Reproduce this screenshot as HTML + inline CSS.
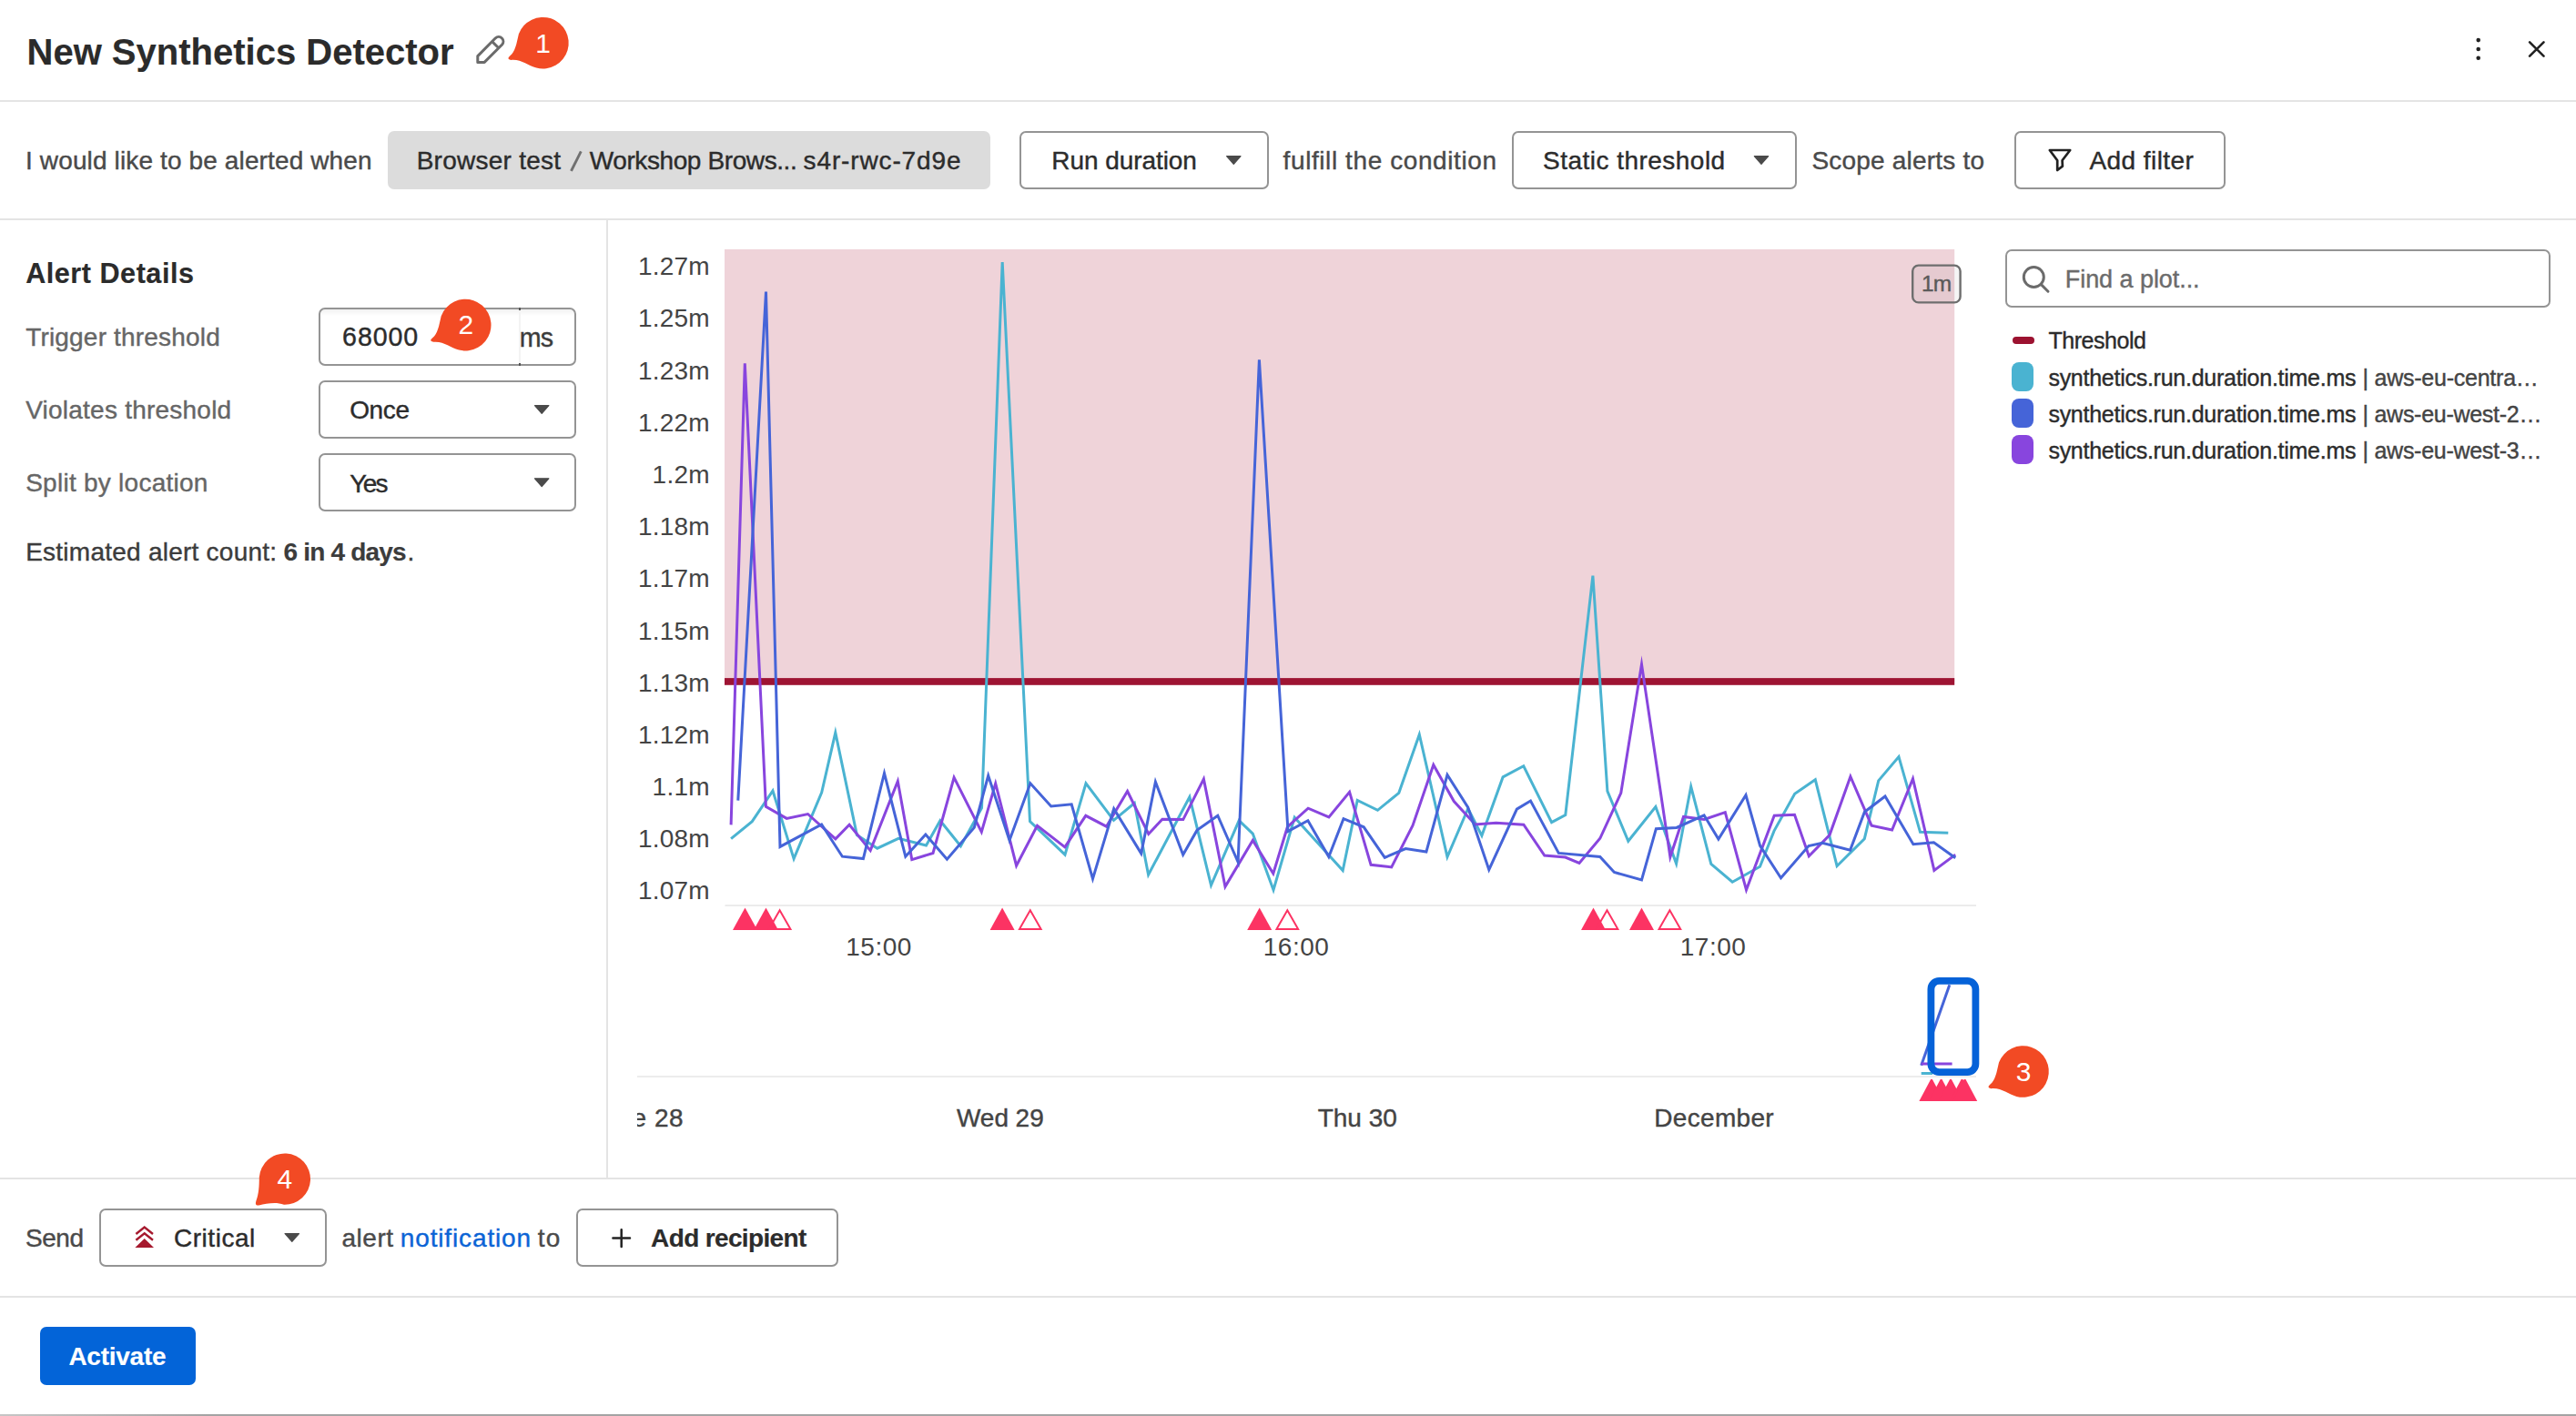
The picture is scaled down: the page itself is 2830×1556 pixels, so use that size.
<!DOCTYPE html>
<html lang="en">
<head>
<meta charset="utf-8">
<title>New Synthetics Detector</title>
<style>
html,body{margin:0;padding:0;background:#fff;}
body{width:2830px;height:1556px;overflow:hidden;font-family:"Liberation Sans",sans-serif;}
#page{position:relative;width:2830px;height:1556px;overflow:hidden;background:#fff;}
.t{position:absolute;white-space:pre;line-height:1;font-family:"Liberation Sans",sans-serif;}
.s{-webkit-text-stroke:0.4px currentColor;}
.sb{-webkit-text-stroke:0.15px currentColor;}
.hl,.vl,.box,.sw{position:absolute;box-sizing:border-box;}
.hl{left:0;width:2830px;height:2px;background:#e4e4e4;}
.vl{width:2px;background:#e4e4e4;}
.box{border:2px solid #949494;border-radius:7px;background:#fff;}
.sw{border-radius:8px;}
svg{position:absolute;left:0;top:0;overflow:visible;}

</style>
</head>
<body>
<div id="page">
<!-- separators -->
<div class="hl" style="top:110px"></div>
<div class="hl" style="top:240px"></div>
<div class="vl" style="left:666px;top:242px;height:1053px"></div>
<div class="hl" style="top:1294px"></div>
<div class="hl" style="top:1424px"></div>
<div class="hl" style="top:1554px;height:2px;background:linear-gradient(to right,#c6c6c6 0,#a4a4a4 8%,#a4a4a4 100%)"></div>

<!-- row 2 -->
<div class="box" style="left:425.7px;top:144px;width:662.3px;height:64px;border:none;background:#dcdcdc"></div>
<div class="box" style="left:1120px;top:144px;width:274px;height:64px"></div>
<div class="box" style="left:1661.4px;top:144px;width:312.4px;height:64px"></div>
<div class="box" style="left:2213px;top:144px;width:232px;height:64px"></div>

<!-- left panel -->
<div class="box inp" style="left:350px;top:338px;width:283.3px;height:64px;background:linear-gradient(to bottom,#f1f1f1 0,#fff 7px,#fff 100%)"></div>
<div class="vl" style="left:570px;top:341px;height:58px;background:#f3f3f3"></div>
<div class="vl" style="left:570px;top:338px;height:3px;background:#555"></div>
<div class="vl" style="left:570px;top:399px;height:3px;background:#555"></div>
<div class="box" style="left:350px;top:418px;width:283.3px;height:64px"></div>
<div class="box" style="left:350px;top:498px;width:283.3px;height:64px"></div>

<!-- legend / search -->
<div class="box" style="left:2203.3px;top:274px;width:599px;height:64px"></div>
<div class="sw" style="left:2210.6px;top:370px;width:24.4px;height:8px;border-radius:4px;background:#9c1230"></div>
<div class="sw" style="left:2210.3px;top:398px;width:24.2px;height:32px;background:#4ab3d1"></div>
<div class="sw" style="left:2210.3px;top:438px;width:24.2px;height:32px;background:#4564d8"></div>
<div class="sw" style="left:2210.3px;top:478px;width:24.2px;height:32px;background:#8845de"></div>

<!-- bottom -->
<div class="box" style="left:109px;top:1328px;width:249.5px;height:64px"></div>
<div class="box" style="left:633px;top:1328px;width:287.5px;height:64px"></div>
<div class="box" style="left:43.5px;top:1458px;width:171px;height:64px;border:none;background:#0364d8"></div>
<div class="cover" style="position:absolute;left:670px;top:1205px;width:29.7px;height:45px;background:#fff;z-index:5"></div>

<svg width="2830" height="1556" viewBox="0 0 2830 1556">
<rect x="796" y="273.9" width="1351.2" height="475" fill="#efd3d9"/>
<rect x="796.5" y="994" width="1374.5" height="2" fill="#ececec"/>
<rect x="796" y="745.1" width="1351.2" height="7.7" fill="#9e1433"/>
<polyline fill="none" stroke="#4ab3d1" stroke-width="3" stroke-linejoin="miter" stroke-miterlimit="10" points="803.1,921.7 826.3,902.7 849.0,869.0 872.1,943.6 902.7,870.8 917.8,805.1 941.4,917.5 963.8,932.2 987.0,921.4 1017.5,929.0 1032.9,901.7 1055.4,929.7 1078.5,887.9 1101.2,288.1 1131.5,902.7 1170.0,939.2 1193.0,860.8 1223.5,901.3 1246.3,882.5 1261.6,961.3 1306.9,875.8 1330.5,972.9 1361.2,901.6 1376.3,916.1 1399.0,978.0 1422.2,898.3 1475.2,956.6 1491.2,879.5 1513.5,890.3 1536.8,871.3 1559.3,807.2 1590.0,941.7 1612.8,888.5 1627.9,918.2 1651.1,853.9 1673.8,841.8 1704.6,903.6 1719.8,895.5 1749.9,632.6 1765.9,869.4 1788.8,924.3 1818.9,886.5 1841.6,949.0 1857.7,864.3 1879.8,949.4 1903.2,969.2 1933.5,952.3 1949.0,913.1 1971.7,872.3 1994.3,856.8 2018.1,951.7 2048.3,921.7 2063.7,857.9 2086.0,831.5 2109.5,914.3 2140.3,915.3"/>
<polyline fill="none" stroke="#8845de" stroke-width="3" stroke-linejoin="miter" stroke-miterlimit="10" points="803.1,906.4 818.3,399.4 841.4,886.3 864.2,899.4 887.5,894.5 917.9,921.9 933.1,906.2 956.2,934.6 986.3,858.5 1001.8,944.6 1025.0,937.5 1048.1,854.3 1078.3,914.2 1093.7,860.9 1116.6,951.2 1139.5,907.2 1169.9,930.9 1192.8,896.3 1215.5,908.2 1238.6,869.5 1261.8,916.5 1276.9,900.2 1299.8,900.6 1322.4,856.1 1346.0,974.3 1376.3,923.4 1398.8,960.0 1414.4,908.7 1437.1,888.2 1459.9,897.9 1482.6,870.3 1506.1,950.3 1528.7,952.9 1552.0,907.2 1574.8,840.4 1597.3,880.5 1620.7,905.9 1643.6,904.2 1673.9,906.2 1696.8,940.0 1719.7,942.0 1735.0,948.4 1757.8,921.3 1780.8,871.3 1803.5,730.0 1834.9,941.8 1849.5,897.5 1872.3,900.5 1895.3,892.6 1918.5,977.9 1949.2,896.2 1971.5,895.3 1987.3,940.7 2010.0,917.6 2032.9,853.4 2056.1,907.1 2078.6,912.0 2101.5,855.7 2124.9,956.4 2148.2,939.1"/>
<polyline fill="none" stroke="#4564d8" stroke-width="3" stroke-linejoin="miter" stroke-miterlimit="10" points="810.8,879.7 841.5,320.6 857.0,930.4 902.6,905.9 925.4,941.2 948.4,943.6 971.5,849.6 994.8,941.2 1016.9,916.9 1040.4,944.2 1070.3,909.4 1085.7,852.3 1109.0,923.4 1131.9,860.8 1154.7,885.9 1177.2,883.8 1200.5,965.7 1223.7,888.6 1253.7,937.9 1269.4,859.2 1299.7,939.3 1315.0,912.4 1337.8,896.2 1360.1,947.3 1383.4,395.3 1415.0,913.5 1436.9,901.8 1459.8,941.5 1476.0,899.6 1498.2,908.8 1521.3,942.4 1544.2,932.5 1566.9,936.1 1590.0,851.5 1612.7,887.2 1635.8,955.7 1666.4,889.1 1681.5,880.0 1712.3,937.4 1757.8,941.4 1773.4,958.5 1803.5,967.0 1819.4,910.7 1841.9,909.4 1872.1,895.8 1887.9,922.1 1918.0,873.8 1933.6,929.4 1956.5,964.8 1987.0,929.5 2002.1,926.2 2032.6,934.1 2048.4,892.3 2071.0,875.0 2101.9,927.7 2124.5,925.8 2148.2,942.8"/>
<rect x="2101.2" y="291.6" width="52.4" height="40.8" rx="6.5" fill="rgba(0,0,0,0.04)" stroke="#6e6e6e" stroke-width="2.4"/>
<polygon fill="#fc3363" points="805.0,1021.9 818.5,997.6 832.0,1021.9"/>
<polygon fill="#fc3363" points="828.0,1021.9 841.5,997.6 855.0,1021.9"/>
<polygon fill="none" stroke="#fc3363" stroke-width="2" stroke-linejoin="miter" points="844.80,1020.90 856.60,1000.20 868.40,1020.90"/>
<polygon fill="#fc3363" points="1087.6,1021.9 1101.1,997.6 1114.6,1021.9"/>
<polygon fill="none" stroke="#fc3363" stroke-width="2" stroke-linejoin="miter" points="1120.00,1020.90 1131.80,1000.20 1143.60,1020.90"/>
<polygon fill="#fc3363" points="1370.2,1021.9 1383.7,997.6 1397.2,1021.9"/>
<polygon fill="none" stroke="#fc3363" stroke-width="2" stroke-linejoin="miter" points="1402.50,1020.90 1414.30,1000.20 1426.10,1020.90"/>
<polygon fill="#fc3363" points="1737.0,1021.9 1750.5,997.6 1764.0,1021.9"/>
<polygon fill="none" stroke="#fc3363" stroke-width="2" stroke-linejoin="miter" points="1753.70,1020.90 1765.50,1000.20 1777.30,1020.90"/>
<polygon fill="#fc3363" points="1790.0,1021.9 1803.5,997.6 1817.0,1021.9"/>
<polygon fill="none" stroke="#fc3363" stroke-width="2" stroke-linejoin="miter" points="1822.60,1020.90 1834.40,1000.20 1846.20,1020.90"/>
<rect x="700" y="1182" width="1471" height="2" fill="#ececec"/>
<line x1="2110.7" y1="1170.8" x2="2141.8" y2="1082.2" stroke="#4564d8" stroke-width="3"/>
<line x1="2110.7" y1="1168.9" x2="2144.6" y2="1168.9" stroke="#8845de" stroke-width="3"/>
<line x1="2110.7" y1="1179.5" x2="2123" y2="1179.5" stroke="#4ab3d1" stroke-width="3"/>
<rect x="2121.4" y="1077.9" width="49" height="100.2" rx="9" fill="none" stroke="#0562d8" stroke-width="7.8"/>
<g clip-path="url(#cpo)">
<polygon fill="#fc3363" points="2108.4,1209.9 2122.0,1184.4 2135.6,1209.9"/>
<polygon fill="#fc3363" points="2119.0,1209.9 2132.6,1184.4 2146.2,1209.9"/>
<polygon fill="#fc3363" points="2129.4,1209.9 2143.0,1184.4 2156.6,1209.9"/>
<polygon fill="#fc3363" points="2141.9,1209.9 2155.5,1184.4 2169.1,1209.9"/>
<polygon fill="#fc3363" points="2145.0,1209.9 2158.6,1184.4 2172.2,1209.9"/>
</g><defs><clipPath id="cpo"><rect x="2100" y="1186" width="80" height="30"/></clipPath></defs>
<path transform="translate(596.9,47.5)" fill="#f24a24" d="M-27,-10.2 C-29.5,1 -31,9.5 -36.5,13.8 Q-41,17.6 -35.5,18.4 C-24.5,17.2 -17,24.5 -7.6,27.1 A28.3,28.3 0 1 0 -27,-10.2 Z"/>
<path transform="translate(511.7,357.4)" fill="#f24a24" d="M-27,-10.2 C-29.5,1 -31,9.5 -36.5,13.8 Q-41,17.6 -35.5,18.4 C-24.5,17.2 -17,24.5 -7.6,27.1 A28.3,28.3 0 1 0 -27,-10.2 Z"/>
<path transform="translate(2223,1177.8)" fill="#f24a24" d="M-27,-10.2 C-29.5,1 -31,9.5 -36.5,13.8 Q-41,17.6 -35.5,18.4 C-24.5,17.2 -17,24.5 -7.6,27.1 A28.3,28.3 0 1 0 -27,-10.2 Z"/>
<path transform="translate(312.9,1295.7)" fill="#f24a24" d="M-28.1,-2 C-28.1,8 -28.6,16 -31.4,23.5 Q-33.5,29.5 -28.5,28.8 C-20,27 -10,24.8 -1,28.1 A28.15,28.15 0 1 0 -28.1,-2 Z"/>
<path fill="none" stroke="#6b6b6b" stroke-width="3" stroke-linejoin="round" d="M524.8,61.6 L524.8,68.4 L532.2,68.4 L551.6,49 A5.1,5.1 0 0 0 544.4,41.8 Z M540.6,45.6 L547.8,52.8"/>
<circle cx="2722.7" cy="44.1" r="2.3" fill="#222"/>
<circle cx="2722.7" cy="54" r="2.3" fill="#222"/>
<circle cx="2722.7" cy="63.8" r="2.3" fill="#222"/>
<path stroke="#222" stroke-width="2.6" stroke-linecap="round" fill="none" d="M2779.1,46.3 L2794.5,61.7 M2794.5,46.3 L2779.1,61.7"/>
<line x1="627.5" y1="187.8" x2="638.3" y2="166.3" stroke="#707070" stroke-width="2.9"/>
<polygon fill="#4a4a4a" stroke="#4a4a4a" stroke-width="1.2" stroke-linejoin="round" points="1347.6,171.6 1363.0,171.6 1355.3,180.3"/>
<polygon fill="#4a4a4a" stroke="#4a4a4a" stroke-width="1.2" stroke-linejoin="round" points="1927.3,171.6 1942.7,171.6 1935.0,180.3"/>
<polygon fill="#4a4a4a" stroke="#4a4a4a" stroke-width="1.2" stroke-linejoin="round" points="587.5,445.7 602.9,445.7 595.2,454.4"/>
<polygon fill="#4a4a4a" stroke="#4a4a4a" stroke-width="1.2" stroke-linejoin="round" points="587.5,525.8 602.9,525.8 595.2,534.5"/>
<polygon fill="#4a4a4a" stroke="#4a4a4a" stroke-width="1.2" stroke-linejoin="round" points="313.1,1355.5 328.5,1355.5 320.8,1364.3"/>
<path fill="none" stroke="#222" stroke-width="2.7" stroke-linejoin="round" d="M2251.8,165 L2274.2,165 L2265.6,176.2 L2265.9,182.6 L2260.2,187 L2260.2,176.2 Z"/>
<circle cx="2234.3" cy="304.5" r="11" fill="none" stroke="#6b6b6b" stroke-width="3"/><line x1="2242.2" y1="312.4" x2="2250" y2="320.2" stroke="#6b6b6b" stroke-width="3" stroke-linecap="round"/>
<path fill="none" stroke="#a6192e" stroke-width="2.4" stroke-linejoin="miter" d="M149.4,1356 L158.7,1348.6 L168,1356"/>
<path fill="none" stroke="#a6192e" stroke-width="2.4" stroke-linejoin="miter" d="M149.4,1362.8 L158.7,1355.4 L168,1362.8"/>
<path fill="#a6192e" d="M148.4,1370.9 L158.7,1361 L169,1370.9 Z"/>
<path stroke="#222" stroke-width="2.5" stroke-linecap="round" fill="none" d="M673.4,1360.6 L692,1360.6 M682.7,1351.3 L682.7,1369.9"/>
</svg>
<span class="t sb" style="left:29.5px;top:36.5px;font-size:40px;color:#2b2b2b;font-weight:700;">New Synthetics Detector</span>
<span class="t s" style="left:28.0px;top:162.5px;font-size:28px;color:#4a4a4a;letter-spacing:0.131px;">I would like to be alerted when</span>
<span class="t s" style="left:457.7px;top:162.5px;font-size:28px;color:#2c2c2c;letter-spacing:0.254px;">Browser test</span>
<span class="t s" style="left:647.7px;top:162.5px;font-size:28px;color:#2c2c2c;letter-spacing:-0.397px;">Workshop Brows...</span>
<span class="t s" style="left:882.6px;top:162.5px;font-size:28px;color:#2c2c2c;letter-spacing:0.865px;">s4r-rwc-7d9e</span>
<span class="t s" style="left:1155.3px;top:162.5px;font-size:28px;color:#2c2c2c;letter-spacing:-0.066px;">Run duration</span>
<span class="t s" style="left:1409.6px;top:162.5px;font-size:28px;color:#4a4a4a;letter-spacing:0.591px;">fulfill the condition</span>
<span class="t s" style="left:1695.0px;top:162.5px;font-size:28px;color:#2c2c2c;letter-spacing:0.480px;">Static threshold</span>
<span class="t s" style="left:1990.5px;top:162.5px;font-size:28px;color:#4a4a4a;letter-spacing:0.195px;">Scope alerts to</span>
<span class="t s" style="left:2295.4px;top:162.5px;font-size:28px;color:#2c2c2c;letter-spacing:0.445px;">Add filter</span>
<span class="t sb" style="left:28.2px;top:284.6px;font-size:30.6px;color:#2b2b2b;font-weight:700;letter-spacing:0.520px;">Alert Details</span>
<span class="t s" style="left:28.2px;top:357.2px;font-size:28px;color:#666666;letter-spacing:0.186px;">Trigger threshold</span>
<span class="t s" style="left:376.1px;top:356.3px;font-size:28.6px;color:#2c2c2c;letter-spacing:0.892px;">68000</span>
<span class="t s" style="left:570.8px;top:356.5px;font-size:28.6px;color:#3c3c3c;letter-spacing:-0.927px;">ms</span>
<span class="t s" style="left:28.2px;top:437.2px;font-size:28px;color:#666666;letter-spacing:0.231px;">Violates threshold</span>
<span class="t s" style="left:384.2px;top:437.4px;font-size:28px;color:#2c2c2c;letter-spacing:-0.375px;">Once</span>
<span class="t s" style="left:28.2px;top:517.2px;font-size:28px;color:#666666;letter-spacing:0.256px;">Split by location</span>
<span class="t s" style="left:384.2px;top:517.5px;font-size:28px;color:#2c2c2c;letter-spacing:-1.640px;">Yes</span>
<span class="t s" style="left:28.2px;top:593.3px;font-size:28px;color:#3c3c3c;letter-spacing:0.243px;">Estimated alert count:</span>
<span class="t sb" style="left:311.5px;top:593.3px;font-size:28px;color:#3c3c3c;font-weight:700;letter-spacing:-0.819px;">6 in 4 days</span>
<span class="t s" style="left:447.5px;top:593.3px;font-size:28px;color:#3c3c3c;">.</span>
<span class="t" style="left:701.0px;top:279.2px;font-size:28px;color:#444444;letter-spacing:0.194px;">1.27m</span>
<span class="t" style="left:701.0px;top:336.4px;font-size:28px;color:#444444;letter-spacing:0.194px;">1.25m</span>
<span class="t" style="left:701.0px;top:393.6px;font-size:28px;color:#444444;letter-spacing:0.194px;">1.23m</span>
<span class="t" style="left:701.0px;top:450.7px;font-size:28px;color:#444444;letter-spacing:0.194px;">1.22m</span>
<span class="t" style="left:716.6px;top:507.9px;font-size:28px;color:#444444;letter-spacing:0.249px;">1.2m</span>
<span class="t" style="left:701.0px;top:565.1px;font-size:28px;color:#444444;letter-spacing:0.194px;">1.18m</span>
<span class="t" style="left:701.0px;top:622.3px;font-size:28px;color:#444444;letter-spacing:0.194px;">1.17m</span>
<span class="t" style="left:701.0px;top:679.5px;font-size:28px;color:#444444;letter-spacing:0.194px;">1.15m</span>
<span class="t" style="left:701.0px;top:736.6px;font-size:28px;color:#444444;letter-spacing:0.194px;">1.13m</span>
<span class="t" style="left:701.0px;top:793.8px;font-size:28px;color:#444444;letter-spacing:0.194px;">1.12m</span>
<span class="t" style="left:716.6px;top:851.0px;font-size:28px;color:#444444;letter-spacing:0.249px;">1.1m</span>
<span class="t" style="left:701.0px;top:908.2px;font-size:28px;color:#444444;letter-spacing:0.194px;">1.08m</span>
<span class="t" style="left:701.0px;top:965.4px;font-size:28px;color:#444444;letter-spacing:0.194px;">1.07m</span>
<span class="t" style="left:929.3px;top:1027.1px;font-size:28px;color:#444444;letter-spacing:0.483px;">15:00</span>
<span class="t" style="left:1387.8px;top:1027.1px;font-size:28px;color:#444444;letter-spacing:0.483px;">16:00</span>
<span class="t" style="left:1845.8px;top:1027.1px;font-size:28px;color:#444444;letter-spacing:0.483px;">17:00</span>
<span class="t s" style="left:694.6px;top:1214.6px;font-size:28px;color:#444444;letter-spacing:0.500px;">e 28</span>
<span class="t s" style="left:1051.0px;top:1214.6px;font-size:28px;color:#444444;letter-spacing:-0.058px;">Wed 29</span>
<span class="t s" style="left:1447.7px;top:1214.6px;font-size:28px;color:#444444;letter-spacing:-0.014px;">Thu 30</span>
<span class="t s" style="left:1817.3px;top:1214.6px;font-size:28px;color:#444444;letter-spacing:0.306px;">December</span>
<span class="t s" style="left:2111.0px;top:300.3px;font-size:24.5px;color:#5a5a5a;letter-spacing:-0.836px;">1m</span>
<span class="t s" style="left:2268.8px;top:294.0px;font-size:27px;color:#6b6b6b;letter-spacing:-0.060px;">Find a plot...</span>
<span class="t s" style="left:2250.4px;top:362.3px;font-size:25px;color:#2c2c2c;letter-spacing:-0.459px;">Threshold</span>
<span class="t s" style="left:2250.4px;top:402.8px;font-size:25px;color:#2c2c2c;letter-spacing:-0.262px;">synthetics.run.duration.time.ms</span>
<span class="t s" style="left:2595.6px;top:402.8px;font-size:25px;color:#444444;letter-spacing:-0.243px;">| aws-eu-centra…</span>
<span class="t s" style="left:2250.4px;top:442.8px;font-size:25px;color:#2c2c2c;letter-spacing:-0.262px;">synthetics.run.duration.time.ms</span>
<span class="t s" style="left:2595.6px;top:442.8px;font-size:25px;color:#444444;letter-spacing:-0.279px;">| aws-eu-west-2…</span>
<span class="t s" style="left:2250.4px;top:482.6px;font-size:25px;color:#2c2c2c;letter-spacing:-0.262px;">synthetics.run.duration.time.ms</span>
<span class="t s" style="left:2595.6px;top:482.6px;font-size:25px;color:#444444;letter-spacing:-0.279px;">| aws-eu-west-3…</span>
<span class="t s" style="left:28.0px;top:1346.9px;font-size:28px;color:#4a4a4a;letter-spacing:-0.464px;">Send</span>
<span class="t s" style="left:191.0px;top:1346.9px;font-size:28px;color:#2c2c2c;letter-spacing:0.534px;">Critical</span>
<span class="t s" style="left:375.4px;top:1346.9px;font-size:28px;color:#4a4a4a;letter-spacing:0.558px;">alert</span>
<span class="t s" style="left:439.8px;top:1346.9px;font-size:28px;color:#0b64d6;letter-spacing:0.858px;">notification</span>
<span class="t s" style="left:590.8px;top:1346.9px;font-size:28px;color:#4a4a4a;letter-spacing:1.146px;">to</span>
<span class="t sb" style="left:715.1px;top:1346.9px;font-size:28px;color:#2c2c2c;font-weight:700;letter-spacing:-0.643px;">Add recipient</span>
<span class="t sb" style="left:75.4px;top:1477.2px;font-size:28px;color:#ffffff;font-weight:700;letter-spacing:-0.248px;">Activate</span>
<span class="t" style="left:588.2px;top:32.5px;font-size:30px;color:#ffffff;">1</span>
<span class="t" style="left:503.4px;top:342.4px;font-size:30px;color:#ffffff;">2</span>
<span class="t" style="left:2214.7px;top:1162.8px;font-size:30px;color:#ffffff;">3</span>
<span class="t" style="left:304.6px;top:1280.7px;font-size:30px;color:#ffffff;">4</span>
</div>
</body>
</html>
